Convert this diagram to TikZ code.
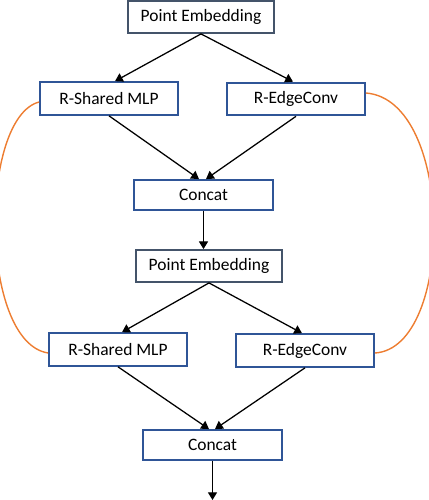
\documentclass[tikz,border=0pt]{standalone}
\usepackage{fontspec}
\setmainfont{Carlito}
\usetikzlibrary{arrows.meta,calc}
\definecolor{boxblue}{HTML}{2F5597}
\definecolor{boxgray}{HTML}{44546A}
\definecolor{linkorange}{HTML}{ED7D31}
\begin{document}
\begin{tikzpicture}[x=0.025cm,y=-0.025cm,
    box/.style={draw=boxblue,line width=1.3pt,inner sep=0pt,minimum width=3.45cm,minimum height=0.82cm,font=\fontsize{12.4}{14}\selectfont},
    embbox/.style={box,draw=boxgray,minimum width=3.65cm,minimum height=0.8cm},
    catbox/.style={box,minimum width=3.475cm,minimum height=0.75cm},
    arr/.style={-{Triangle[width=6.5pt,length=5.5pt]},line width=0.9pt},
    skip/.style={draw=linkorange,line width=1pt}]
                \useasboundingbox (0,0) rectangle (428,500);
                \node[embbox] (PE1) at (201,17) {Point Embedding};
                \node[box] (RS1) at (109,98.5) {R-Shared MLP};
                \node[box] (RE1) at (296,99) {R-EdgeConv};
                \node[catbox] (C1) at (203.5,195) {Concat};
                \node[embbox] (PE2) at (209,266) {Point Embedding};
                \node[box] (RS2) at (118,349.5) {R-Shared MLP};
                \node[box] (RE2) at (305,350.5) {R-EdgeConv};
                \node[catbox] (C2) at (212.5,445) {Concat};
                \coordinate (out) at (212.5,500);
                \draw [arr] (PE1.south) -- ($(RS1.north)+(6,0)$);
                \draw [arr] (PE1.south) -- ($(RE1.north)+(-3,0)$);
                \draw [arr] (RS1.south) -- ($(C1.north)+(-4.5,0)$);
                \draw [arr] (RE1.south) -- ($(C1.north)+(2.5,0)$);
                \draw [arr] (C1.south) -- (C1.south |- PE2.north);
                \draw [arr] (PE2.south) -- ($(RS2.north)+(4,0)$);
                \draw [arr] (PE2.south) -- ($(RE2.north)+(-3,0)$);
                \draw [arr] (RS2.south) -- ($(C2.north)+(-3.5,0)$);
                \draw [arr] (RE2.south) -- ($(C2.north)+(2.5,0)$);
                \draw [arr] (C2.south) -- (out);
                \draw [skip] ($(RS1.west)+(0,3.5)$) .. controls (-21,118) and (-21,342) .. ($(RS2.west)+(0,3.5)$);
                \draw [skip] ($(RE1.east)+(0,-6)$) .. controls (455,100) and (455,348) .. ($(RE2.east)+(0,2.5)$);
            \end{tikzpicture}
\end{document}
